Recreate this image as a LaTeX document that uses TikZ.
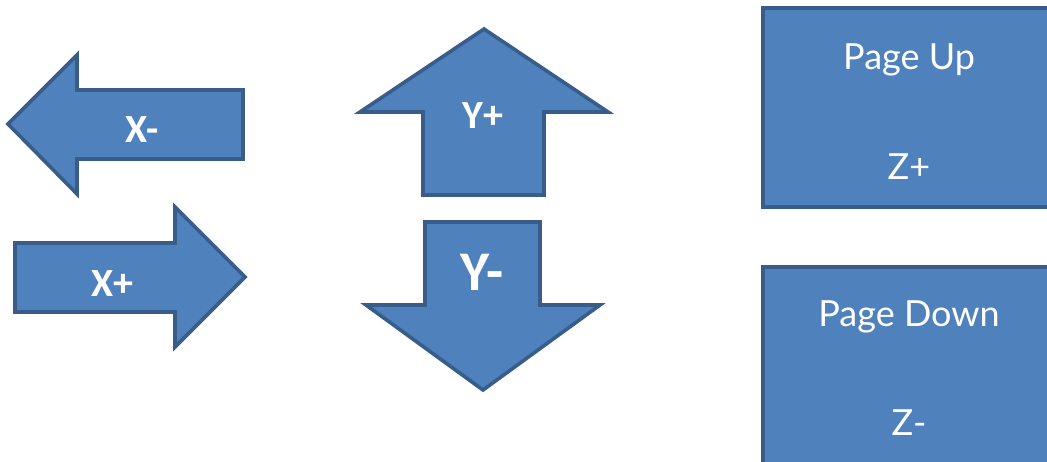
\documentclass[tikz,border=0pt]{standalone}
\usepackage{fontspec}
\setmainfont{Carlito}
\newfontfamily\keyfont{Lato}
\definecolor{keyfill}{HTML}{4F81BD}
\definecolor{keyline}{HTML}{385D8A}
\begin{document}
\begin{tikzpicture}[x=1pt, y=-1pt,
    keyshape/.style={fill=keyfill, draw=keyline, line width=3.6pt, line join=miter},
    arrowlabel/.style={text=white, font=\bfseries\fontsize{40}{40}\selectfont},
    keylabel/.style={text=white, font=\keyfont\fontsize{36}{36}\selectfont}
]
\useasboundingbox (0,0) rectangle (1047,462);

\draw[keyshape] (8,124) -- (77,55) -- (77,90) -- (243,90) -- (243,159) -- (77,159) -- (77,194) -- cycle;
\draw[keyshape] (15,243) -- (175,243) -- (175,207) -- (245,277) -- (175,347) -- (175,312) -- (15,312) -- cycle;
\draw[keyshape] (484,29) -- (608,112) -- (544,112) -- (544,195) -- (423,195) -- (423,112) -- (360,112) -- cycle;
\draw[keyshape] (425,222) -- (540,222) -- (540,305) -- (600,305) -- (483,390) -- (366,305) -- (425,305) -- cycle;
\draw[keyshape] (763,8) rectangle (1070,207);
\draw[keyshape] (763,267) rectangle (1070,490);

\node[arrowlabel] (xminus) at (142,130) {X-};
\node[arrowlabel] (xplus) at (112,284) {X+};
\node[arrowlabel] (yplus) at (483,116) {Y+};
\node[arrowlabel, font=\bfseries\fontsize{56}{56}\selectfont] (yminus) at (482,272) {Y-};

\node[keylabel] (pageup) at (909,60) {Page Up};
\node[keylabel] (zplus) at (909,167) {Z+};
\node[keylabel] (pagedown) at (909,317) {Page Down};
\node[keylabel] (zminus) at (909,423) {Z-};

\end{tikzpicture}
\end{document}
